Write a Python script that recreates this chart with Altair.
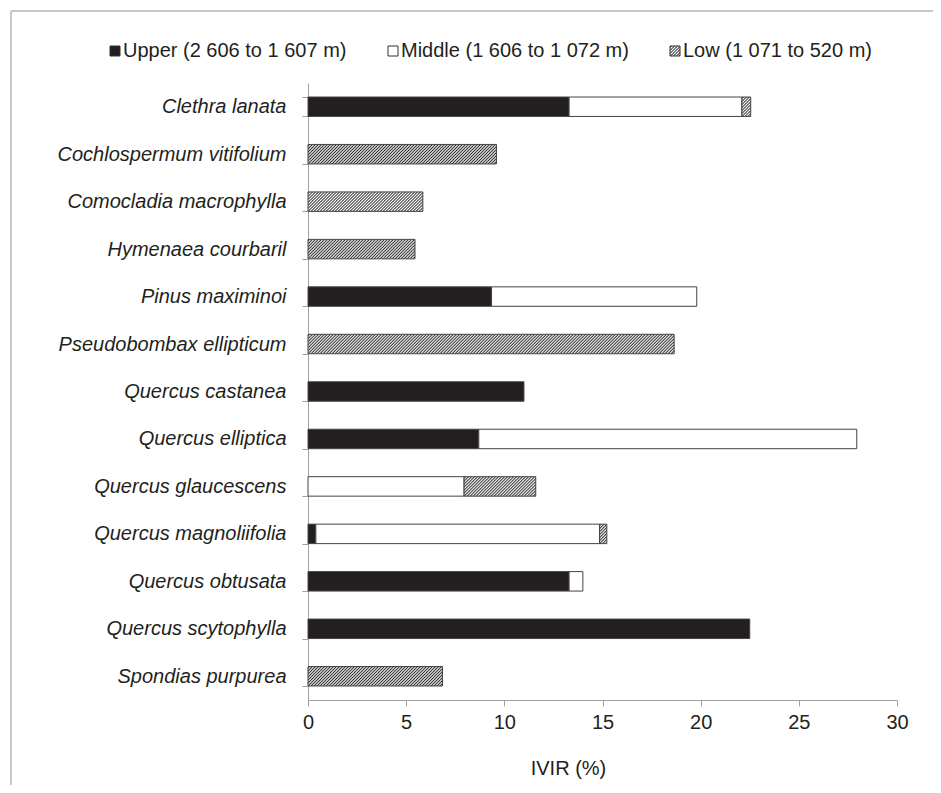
import altair as alt
import pandas as pd

species = [
    "Clethra lanata", "Cochlospermum vitifolium", "Comocladia macrophylla",
    "Hymenaea courbaril", "Pinus maximinoi", "Pseudobombax ellipticum",
    "Quercus castanea", "Quercus elliptica", "Quercus glaucescens",
    "Quercus magnoliifolia", "Quercus obtusata", "Quercus scytophylla",
    "Spondias purpurea",
]
upper = [13.3, 0, 0, 0, 9.35, 0, 11.0, 8.7, 0, 0.4, 13.3, 22.5, 0]
middle = [8.8, 0, 0, 0, 10.45, 0, 0, 19.25, 7.95, 14.45, 0.7, 0, 0]
low = [0.45, 9.6, 5.85, 5.45, 0, 18.65, 0, 0, 3.65, 0.37, 0, 0, 6.85]

zones = ["Upper (2 606 to 1 607 m)", "Middle (1 606 to 1 072 m)", "Low (1 071 to 520 m)"]
x_ticks = [0, 5, 10, 15, 20, 25, 30]

# ---- layout / style ----
W, H = 589, 617
PAD_L, PAD_T = 300, 75
XMAX = 30
STEP = H / len(species)
PAD_INNER = 0.59
BAR_H = STEP * (1 - PAD_INNER)
PERIOD = 3.0
DARK_C, LIGHT_C = "#383838", "#ffffff"
FONT = "Liberation Sans"
FS = 20
TXT = "#231f20"


def hatch(wpx, hpx):
    """Diagonal '////' stripes as a bbox linear gradient (triangle wave)."""
    wpx = max(wpx, 0.5)
    S = wpx + hpx
    k = (wpx + hpx) * wpx / (wpx * wpx + hpx * hpx)
    stops = []
    s = 0.0
    while s < S + PERIOD:
        stops.append({"offset": min(s / S, 1.0), "color": LIGHT_C})
        stops.append({"offset": min((s + PERIOD / 2) / S, 1.0), "color": DARK_C})
        s += PERIOD
    return {"gradient": "linear", "x1": 0, "y1": 0, "x2": k, "y2": k * hpx / wpx, "stops": stops}


rows = []
for i, sp in enumerate(species):
    for j, (z, vals) in enumerate(zip(zones, [upper, middle, low])):
        v = vals[i]
        if v > 0:
            rows.append({"species": sp, "zone": z, "value": v, "ord": j, "key": f"{i}_{j}"})
df = pd.DataFrame(rows)

conds = []
for r in rows:
    if r["ord"] == 2:
        conds.append({"test": f"datum.key === '{r['key']}'",
                      "value": hatch(r["value"] * W / XMAX, BAR_H)})

legend_hatch = hatch(10, 10)
legend_expr = "{gradient:'linear',x1:0,y1:0,x2:%g,y2:%g,stops:[" % (legend_hatch["x2"], legend_hatch["y2"]) + ",".join(
    "{offset:%g,color:'%s'}" % (st["offset"], st["color"]) for st in legend_hatch["stops"]) + "]}"

bars = alt.Chart(df).mark_bar(stroke="#444444", strokeWidth=1).encode(
    y=alt.Y("species:N", sort=species, title=None,
            scale=alt.Scale(paddingInner=PAD_INNER, paddingOuter=PAD_INNER / 2),
            axis=alt.Axis(labelFontStyle="italic", labelFontSize=FS, labelColor=TXT,
                          labelFont=FONT, tickBand="extent", tickSize=6,
                          tickColor="#a0a0a0", domainColor="#a0a0a0", labelPadding=16,
                          labelLimit=300)),
    x=alt.X("value:Q", stack="zero", title="IVIR (%)",
            scale=alt.Scale(domain=[0, XMAX], nice=False),
            axis=alt.Axis(values=x_ticks, labelFontSize=FS, labelColor=TXT,
                          labelFont=FONT, tickSize=6, tickColor="#a0a0a0",
                          domainColor="#a0a0a0", grid=False, labelPadding=6,
                          labelFlush=False,
                          titleFontSize=FS, titleFont=FONT,
                          titleFontWeight="normal", titleColor=TXT,
                          titleX=260, titleY=58, titleBaseline="top")),
    fill=alt.Fill("zone:N", sort=zones,
                  scale=alt.Scale(domain=zones,
                                  range=["#231f20", "#ffffff", {"expr": legend_expr}]),
                  legend=alt.Legend(title=None, orient="none", direction="horizontal",
                                    legendX=-203, legendY=-42, symbolType="square",
                                    symbolSize=100, symbolStrokeColor="#333333",
                                    symbolStrokeWidth=1, labelFontSize=FS,
                                    labelFont=FONT, labelColor=TXT,
                                    labelOffset={"expr": "-2"}, columnPadding=36,
                                    labelLimit=400),
                  condition=conds),
    order=alt.Order("ord:Q"),
)

frame_left = alt.Chart(pd.DataFrame({"a": [0]})).mark_rule(color="#c8c8c8", strokeWidth=2).encode(
    x=alt.value(-PAD_L + 3), y=alt.value(-PAD_T + 3), y2=alt.value(H + 120))
frame_top = alt.Chart(pd.DataFrame({"a": [0]})).mark_rule(color="#c8c8c8", strokeWidth=2).encode(
    x=alt.value(-PAD_L + 3), x2=alt.value(W + 200), y=alt.value(-PAD_T + 3))

chart = alt.layer(frame_left, frame_top, bars).properties(
    width=W, height=H,
    autosize=alt.AutoSizeParams(type="none"),
    padding={"left": PAD_L, "top": PAD_T, "right": 925 - PAD_L - W, "bottom": 777 - PAD_T - H},
).configure_view(stroke=None).configure_axis(labelFont=FONT)

chart.save("out.html", embed_options={"renderer": "svg", "actions": False})
